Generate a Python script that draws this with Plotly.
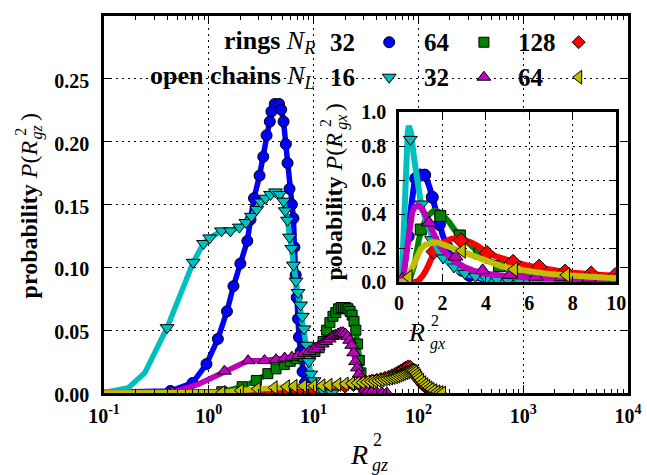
import plotly.graph_objects as go

# ================= main panel : P(R_gz^2) versus R_gz^2 (log x) =================
# rings N_R = 32 (circles)
ring32_x = [0.05, 0.43, 0.70, 0.95, 1.22, 1.49, 1.72, 2.0, 2.33, 2.5, 2.7, 3.05, 3.31, 3.56, 3.82, 3.96,
            4.26, 4.68, 4.91, 5.17, 5.43, 5.64, 5.89, 6.2, 6.42, 6.56, 6.75, 6.9, 7.1, 7.25, 7.52,
            7.85, 8.26, 8.7, 9.2, 9.8, 10.5]
ring32_y = [0.0, 0.0016, 0.008, 0.023, 0.043, 0.065, 0.085, 0.103, 0.121, 0.138, 0.155, 0.173, 0.188,
            0.205, 0.216, 0.224, 0.230, 0.230, 0.2255, 0.216, 0.198, 0.183, 0.1625, 0.150, 0.139,
            0.116, 0.094, 0.076, 0.059, 0.0445, 0.033, 0.017, 0.008, 0.004, 0.002, 0.001, 0.0]

# rings N_R = 64 (squares)
ring64_x = [0.05, 1.33, 2.08, 2.84, 3.66, 4.38, 5.25, 5.98, 6.86, 8.0, 9.3, 10.3, 11.3, 12.3, 13.3,
            14.3, 15.3, 16.3, 17.3, 18.3, 19.3, 20.3, 21.3, 22.3, 23.3, 24.3, 25.3, 26.3, 27.3,
            28.3, 29.3, 30.3, 32.0, 34.0]
ring64_y = [0.0, 0.001, 0.005, 0.010, 0.0154, 0.0192, 0.0226, 0.0252, 0.0273, 0.029, 0.031, 0.033,
            0.036, 0.041, 0.050, 0.056, 0.061, 0.064, 0.067, 0.068, 0.068, 0.068, 0.067, 0.065,
            0.062, 0.057, 0.050, 0.039, 0.026, 0.016, 0.009, 0.005, 0.002, 0.0]

# rings N_R = 128 (diamonds)
ring128_x = [0.05, 3, 5, 7, 10, 13, 16, 20, 24, 28, 32, 36, 40, 44, 48, 52, 56, 60, 64, 68, 72, 76,
             80, 84, 88, 92, 96, 100, 104, 108, 112, 116, 120, 126, 132, 140, 150, 160]
ring128_y = [0.0, 0.0003, 0.0008, 0.0014, 0.002, 0.003, 0.004, 0.0052, 0.0063, 0.0075, 0.0088,
             0.0098, 0.0105, 0.0112, 0.0121, 0.0130, 0.0141, 0.0152, 0.0166, 0.0178, 0.0190,
             0.0203, 0.0212, 0.0208, 0.0188, 0.0158, 0.0131, 0.0108, 0.0090, 0.0074, 0.0061,
             0.0050, 0.0042, 0.0031, 0.0023, 0.0015, 0.0008, 0.0]

# open chains N_L = 16 (down triangles); first points carry no marker
chain16_x = [0.1, 0.17, 0.245, 0.40, 0.71, 0.89, 1.02, 1.32, 1.61, 1.96, 2.26, 2.55, 2.87, 3.13,
             3.48, 3.88, 4.33, 4.75, 5.17, 5.36, 5.64, 5.89, 6.19, 6.42, 6.79, 7.1, 7.5, 7.8, 8.1,
             8.6, 9.0, 9.4, 10.1, 11.0, 12.5, 15.0]
chain16_y = [0.0003, 0.004, 0.016, 0.052, 0.104, 0.119, 0.1234, 0.129, 0.129, 0.132, 0.1357, 0.1406,
             0.146, 0.152, 0.155, 0.158, 0.160, 0.158, 0.1526, 0.145, 0.1375, 0.124, 0.115, 0.1018,
             0.089, 0.080, 0.070, 0.061, 0.051, 0.038, 0.025, 0.015, 0.0097, 0.004, 0.001, 0.0]
chain16_marked = [False, False, False] + [True] * 33

# open chains N_L = 32 (up triangles)
chain32_x = [0.05, 0.45, 0.8, 1.41, 2.37, 3.4, 4.38, 5.3, 6.2, 7.1, 8.1, 9.1, 10.1, 11.1, 12.1, 13.1,
             14.1, 15.1, 16.1, 17.1, 18.1, 19.1, 20.1, 21.1, 22.1, 23.1, 24.1, 25.1, 26.1, 27.1,
             28.1, 29.1, 30.1, 31.1, 33, 36, 40, 45, 50]
chain32_y = [0.0, 0.0005, 0.0071, 0.0174, 0.0257, 0.0258, 0.0265, 0.0278, 0.0285, 0.0298, 0.0316,
             0.033, 0.035, 0.037, 0.039, 0.041, 0.043, 0.045, 0.046, 0.047, 0.048, 0.048, 0.047,
             0.045, 0.042, 0.038, 0.032, 0.025, 0.020, 0.015, 0.011, 0.008, 0.005, 0.003, 0.002,
             0.001, 0.0005, 0.0002, 0.0]
chain32_marked = [True, True, False] + [True] * 36

# open chains N_L = 64 (left triangles)
chain64_x = [0.05, 1.33, 2.0, 2.9, 4.2, 5.5, 6.5, 8.0, 10, 12, 14, 17, 20, 23, 26, 29, 32, 35, 38,
             41, 44, 47, 50, 53, 56, 59, 62, 65, 68, 71, 74, 77, 80, 83, 86, 89, 92, 95, 98, 101,
             105, 110, 115, 120, 126, 132, 140, 150, 160, 170]
chain64_y = [0.0, 0.0004, 0.002, 0.0033, 0.0043, 0.005, 0.0054, 0.0056, 0.0057, 0.0058, 0.0062,
             0.0068, 0.0072, 0.0076, 0.008, 0.0083, 0.0087, 0.0091, 0.0095, 0.0099, 0.0104, 0.0109,
             0.0114, 0.0119, 0.0124, 0.0129, 0.0135, 0.0142, 0.0149, 0.0156, 0.0162, 0.0168,
             0.0173, 0.0177, 0.0178, 0.0175, 0.0166, 0.0152, 0.0136, 0.0120, 0.0102, 0.0083,
             0.0067, 0.0054, 0.0041, 0.0030, 0.0019, 0.0010, 0.0004, 0.0]

# ================= inset : P(R_gx^2) versus R_gx^2 (linear) =================
in_ring32_x = [0, 0.1, 0.2, 0.3, 0.4, 0.5, 0.6, 0.7, 0.8, 0.9, 1.0, 1.1, 1.2, 1.4, 1.6, 1.8, 2.0, 2.3,
               2.6, 3.0, 3.4, 3.8, 4.3, 5.0, 6.0, 10.0]
in_ring32_y = [0, 0.0, 0.03, 0.12, 0.25, 0.39, 0.51, 0.58, 0.62, 0.64, 0.65, 0.645, 0.63, 0.56, 0.46,
               0.37, 0.28, 0.18, 0.11, 0.06, 0.033, 0.018, 0.008, 0.003, 0.0, 0.0]
in_ring32_mx = [0.42, 0.77, 1.18, 1.53, 1.86, 2.2, 2.55, 2.9, 3.25]
in_ring32_my = [0.27, 0.61, 0.63, 0.50, 0.34, 0.21, 0.12, 0.07, 0.04]

in_ring64_x = [0, 0.3, 0.5, 0.7, 0.9, 1.0, 1.2, 1.4, 1.6, 1.8, 2.0, 2.3, 2.6, 3.0, 3.4, 3.8, 4.2, 4.6,
               5.0, 5.5, 6.0, 7.0, 8.0, 10.0]
in_ring64_y = [0, 0.0, 0.02, 0.1, 0.24, 0.30, 0.36, 0.40, 0.42, 0.415, 0.395, 0.355, 0.30, 0.25, 0.20,
               0.16, 0.125, 0.095, 0.072, 0.052, 0.037, 0.02, 0.01, 0.0]
in_ring64_mx = [1.0, 1.9, 2.8, 3.7, 4.6, 5.5]
in_ring64_my = [0.31, 0.39, 0.275, 0.17, 0.095, 0.052]

in_ring128_x = [0, 0.7, 0.9, 1.1, 1.3, 1.5, 1.7, 1.9, 2.1, 2.4, 2.7, 3.0, 3.3, 3.6, 4.0, 4.5, 5.0, 5.5,
                6.0, 6.5, 7.0, 7.5, 8.0, 8.5, 9.0, 9.5, 10.0]
in_ring128_y = [0, 0.0, 0.01, 0.04, 0.085, 0.15, 0.20, 0.225, 0.24, 0.255, 0.26, 0.25, 0.235, 0.215,
                0.18, 0.15, 0.13, 0.11, 0.095, 0.085, 0.072, 0.063, 0.056, 0.05, 0.046, 0.041, 0.037]
in_ring128_mx = [1.6, 2.85, 4.05, 5.25, 6.45, 7.65, 8.85, 9.95]
in_ring128_my = [0.18, 0.245, 0.17, 0.118, 0.09, 0.061, 0.05, 0.04]

in_chain16_x = [0, 0.1, 0.2, 0.3, 0.4, 0.45, 0.55, 0.7, 0.85, 1.0, 1.2, 1.4, 1.6, 1.8, 2.0, 2.3, 2.6,
                3.0, 3.5, 4.0, 4.5, 5.0, 6.0, 7.0, 10.0]
in_chain16_y = [0, 0.0, 0.25, 0.65, 0.88, 0.92, 0.88, 0.72, 0.57, 0.47, 0.38, 0.30, 0.24, 0.19, 0.15,
                0.11, 0.08, 0.052, 0.032, 0.02, 0.012, 0.007, 0.002, 0.0, 0.0]
in_chain16_mx = [0.52, 1.05, 1.5, 2.03, 2.53, 3.03, 3.52, 4.02, 4.52, 5.02, 5.52]
in_chain16_my = [0.84, 0.46, 0.25, 0.143, 0.09, 0.052, 0.035, 0.022, 0.015, 0.01, 0.006]

in_chain32_x = [0, 0.1, 0.2, 0.3, 0.4, 0.5, 0.6, 0.7, 0.8, 0.9, 1.0, 1.2, 1.4, 1.6, 1.8, 2.0, 2.3, 2.6,
                3.0, 3.5, 4.0, 4.5, 5.0, 6.0, 7.0, 8.0, 9.0, 10.0]
in_chain32_y = [0, 0.0, 0.04, 0.14, 0.26, 0.35, 0.41, 0.44, 0.45, 0.45, 0.44, 0.40, 0.34, 0.28, 0.23,
                0.19, 0.15, 0.12, 0.09, 0.065, 0.05, 0.042, 0.036, 0.028, 0.022, 0.018, 0.014, 0.012]
in_chain32_mx = [0.15, 1.38, 2.6, 3.85, 5.1, 6.3, 7.5, 8.75, 9.97]
in_chain32_my = [0.02, 0.35, 0.15, 0.07, 0.042, 0.032, 0.028, 0.02, 0.015]

in_chain64_x = [0, 0.2, 0.4, 0.6, 0.8, 1.0, 1.2, 1.4, 1.6, 1.8, 2.0, 2.3, 2.6, 2.9, 3.3, 3.7, 4.2, 4.7,
                5.3, 6.0, 6.7, 7.5, 8.3, 9.0, 10.0]
in_chain64_y = [0, 0.005, 0.03, 0.09, 0.15, 0.195, 0.22, 0.232, 0.235, 0.232, 0.225, 0.21, 0.195, 0.18,
                0.16, 0.14, 0.115, 0.095, 0.078, 0.063, 0.052, 0.043, 0.035, 0.03, 0.024]
in_chain64_mx = [0.45, 2.9, 5.3, 7.7]
in_chain64_my = [0.03, 0.185, 0.075, 0.042]

# ================= text =================
main_xticks = [0.1, 1, 10, 100, 1000, 10000]
main_xticktext = ["10<sup>-1</sup>", "10<sup>0</sup>", "10<sup>1</sup>", "10<sup>2</sup>",
                  "10<sup>3</sup>", "10<sup>4</sup>"]
main_yticks = [0.0, 0.05, 0.10, 0.15, 0.20, 0.25]
inset_xticks = [0, 2, 4, 6, 8, 10]
inset_yticks = [0.0, 0.2, 0.4, 0.6, 0.8, 1.0]
legend_rows = ["<b>rings</b> <i>N</i><sub><i>R</i></sub>", "<b>open chains</b> <i>N</i><sub><i>L</i></sub>"]
legend_ring_sizes = ["32", "64", "128"]
legend_chain_sizes = ["16", "32", "64"]

# ================= styling =================
FONT = "Liberation Serif"
C = {"ring32": "#0000ff", "ring64": "#008000", "ring128": "#ff0000",
     "chain16": "#00bfbf", "chain32": "#bf00bf", "chain64": "#bfbf00"}
SYM = {"ring32": "circle", "ring64": "square", "ring128": "diamond",
       "chain16": "triangle-down", "chain32": "triangle-up", "chain64": "triangle-left"}
MS = {"ring32": 11, "ring64": 10, "ring128": 10, "chain16": 12, "chain32": 12, "chain64": 12}
MS_IN = {"ring32": 12, "ring64": 11, "ring128": 12, "chain16": 12, "chain32": 13, "chain64": 13}

W, H = 647, 475
L, R, T, B = 104, 12, 5, 82
PW, PH = W - L - R, H - T - B


def paper(xp, yp):
    return (xp - L) / PW, (H - B - yp) / PH


fig = go.Figure()


def add(name, x, y, mx, my, xa, ya, lw, sizes):
    fig.add_trace(go.Scatter(x=x, y=y, mode="lines", line=dict(color=C[name], width=lw),
                             xaxis=xa, yaxis=ya, showlegend=False, hoverinfo="skip"))
    fig.add_trace(go.Scatter(x=mx, y=my, mode="markers",
                             marker=dict(symbol=SYM[name], size=sizes[name], color=C[name],
                                         line=dict(color="black", width=1)),
                             xaxis=xa, yaxis=ya, showlegend=False, hoverinfo="skip"))


def pick(vals, mask):
    return [v for v, m in zip(vals, mask) if m]


add("ring32", ring32_x, ring32_y, ring32_x, ring32_y, "x", "y", 5.5, MS)
add("ring64", ring64_x, ring64_y, ring64_x, ring64_y, "x", "y", 5.5, MS)
add("ring128", ring128_x, ring128_y, ring128_x, ring128_y, "x", "y", 5.5, MS)
add("chain16", chain16_x, chain16_y, pick(chain16_x, chain16_marked), pick(chain16_y, chain16_marked), "x", "y", 5.5, MS)
add("chain32", chain32_x, chain32_y, pick(chain32_x, chain32_marked), pick(chain32_y, chain32_marked), "x", "y", 5.5, MS)
add("chain64", chain64_x, chain64_y, chain64_x, chain64_y, "x", "y", 5.5, MS)

add("ring32", in_ring32_x, in_ring32_y, in_ring32_mx, in_ring32_my, "x2", "y2", 6, MS_IN)
add("ring64", in_ring64_x, in_ring64_y, in_ring64_mx, in_ring64_my, "x2", "y2", 6, MS_IN)
add("ring128", in_ring128_x, in_ring128_y, in_ring128_mx, in_ring128_my, "x2", "y2", 6, MS_IN)
add("chain16", in_chain16_x, in_chain16_y, in_chain16_mx, in_chain16_my, "x2", "y2", 6, MS_IN)
add("chain32", in_chain32_x, in_chain32_y, in_chain32_mx, in_chain32_my, "x2", "y2", 6, MS_IN)
add("chain64", in_chain64_x, in_chain64_y, in_chain64_mx, in_chain64_my, "x2", "y2", 6, MS_IN)

# legend symbols on an invisible pixel-coordinate overlay
leg_sym_x = [393, 489, 585]
leg_row_y = [32, 68]
for row, names in enumerate([["ring32", "ring64", "ring128"], ["chain16", "chain32", "chain64"]]):
    for i, nm in enumerate(names):
        fig.add_trace(go.Scatter(x=[leg_sym_x[i]], y=[leg_row_y[row]], mode="markers",
                                 marker=dict(symbol=SYM[nm], size=MS[nm], color=C[nm],
                                             line=dict(color="black", width=1)),
                                 xaxis="x3", yaxis="y3", showlegend=False, hoverinfo="skip",
                                 cliponaxis=False))

tickfont = dict(family=FONT, size=20, color="black", weight="bold")
grid = dict(showgrid=True, gridcolor="black", gridwidth=1, griddash="2px,4px")
frame = dict(showline=True, linecolor="black", linewidth=2.5, mirror="allticks",
             ticks="inside", tickcolor="black", zeroline=False)

minor_vals = [m * 10 ** k for k in range(-1, 4) for m in range(2, 10)]

fig.update_layout(
    width=W, height=H, margin=dict(l=L, r=R, t=T, b=B),
    paper_bgcolor="white", plot_bgcolor="white", showlegend=False,
    xaxis=dict(type="log", range=[-1, 4], tickvals=main_xticks, ticktext=main_xticktext,
               ticklen=8, tickwidth=1, tickfont=tickfont, ticklabelstandoff=3,
               minor=dict(tickvals=minor_vals, ticks="inside", ticklen=4, tickcolor="black",
                          tickwidth=1, showgrid=False),
               **grid, **frame),
    yaxis=dict(range=[0, 0.30], tickvals=main_yticks, tickformat=".2f", ticklen=8, tickwidth=1,
               tickfont=tickfont, ticklabelstandoff=8, ticklabelshift=2, **grid, **frame),
    xaxis2=dict(domain=[(403 - L) / PW, (623 - L) / PW], anchor="y2", range=[0, 10],
                tickvals=inset_xticks, ticklen=6, tickwidth=1, tickfont=tickfont,
                ticklabelstandoff=1, **grid, **frame),
    yaxis2=dict(domain=[(H - B - 279) / PH, (H - B - 104) / PH], anchor="x2", range=[0, 1.0],
                tickvals=inset_yticks, tickformat=".1f", ticklen=6, tickwidth=1,
                tickfont=tickfont, ticklabelstandoff=6, **grid, **frame),
    xaxis3=dict(overlaying="x", range=[L, W - R], visible=False),
    yaxis3=dict(overlaying="y", range=[H - B, T], visible=False),
)

annots = []


def text(s, xp, yp, size, xanchor="center", yanchor="middle", angle=0):
    px, py = paper(xp, yp)
    annots.append(dict(text=s, x=px, y=py, xref="paper", yref="paper", showarrow=False,
                       xanchor=xanchor, yanchor=yanchor, textangle=angle,
                       font=dict(family=FONT, size=size, color="black")))


# legend texts
text(legend_rows[0], 320, 32, 26, xanchor="right")
text(legend_rows[1], 320, 68, 26, xanchor="right")
for i, xs in enumerate([331, 426, 522]):
    text("<b>%s</b>" % legend_ring_sizes[i], xs, 32, 25, xanchor="left")
    text("<b>%s</b>" % legend_chain_sizes[i], xs, 68, 25, xanchor="left")

# main x title  R_gz^2
text("<i>R</i>", 362, 456, 28)
text("2", 375, 441, 18, xanchor="left")
text("<i>gz</i>", 374, 467, 18, xanchor="left")
# main y title  probability P(R_gz^2)
text("<b>probability</b> <i>P</i>(<i>R</i>", 28, 131, 24, yanchor="top", angle=-90)
text("2", 20, 124, 16, angle=-90)
text("<i>gz</i>", 36, 124, 16, angle=-90)
text(")", 28, 109, 24, angle=-90)
# inset x title R_gx^2
text("<i>R</i>", 421, 331, 26)
text("2", 433, 318, 16, xanchor="left")
text("<i>gx</i>", 432, 343, 16, xanchor="left")
# inset y title pobability P(R_gx^2)
text("<b>pobability</b> <i>P</i>(<i>R</i>", 337, 123, 24, yanchor="top", angle=-90)
text("2", 329, 115, 16, angle=-90)
text("<i>gx</i>", 345, 114, 16, angle=-90)
text(")", 337, 99, 24, angle=-90)

fig.update_layout(annotations=annots)
fig.write_html("out.html")
